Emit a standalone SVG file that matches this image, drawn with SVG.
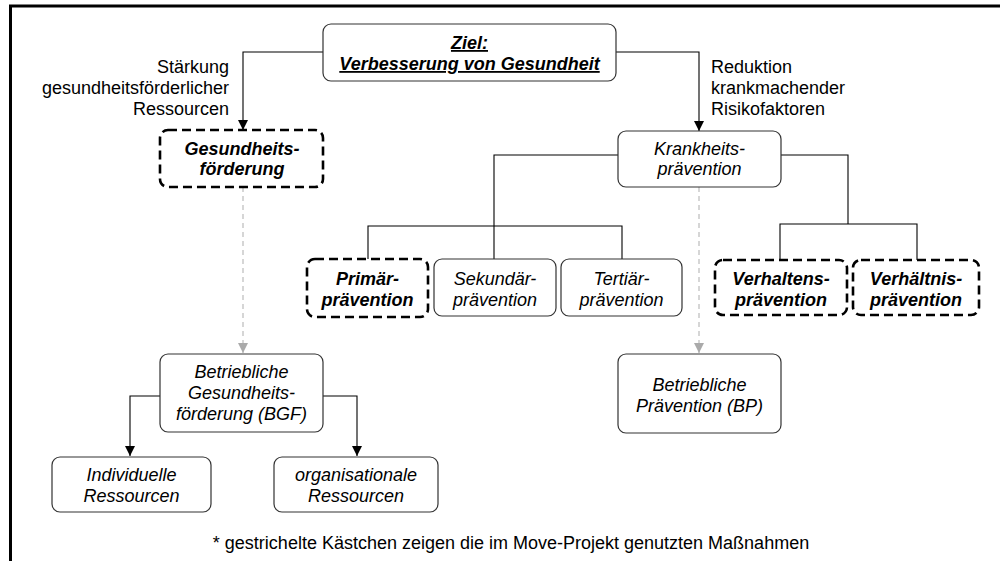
<svg xmlns="http://www.w3.org/2000/svg" width="1000" height="561" viewBox="0 0 1000 561">
<defs>
<marker id="ah" viewBox="0 0 10 10" refX="10" refY="5" markerWidth="10" markerHeight="10" markerUnits="userSpaceOnUse" orient="auto"><path d="M0,0 L10,5 L0,10 z" fill="#000"/></marker>
<marker id="ahg" viewBox="0 0 10 10" refX="10" refY="5" markerWidth="10" markerHeight="10" markerUnits="userSpaceOnUse" orient="auto"><path d="M0,0 L10,5 L0,10 z" fill="#aaa"/></marker>
<style>
text{font-family:"Liberation Sans",Arial,sans-serif;font-size:18px;fill:#000}
.c{text-anchor:middle;font-style:italic}
.b{font-weight:bold}
.u{text-decoration:underline}
.box{fill:#fff;stroke:#333;stroke-width:1.2}
.dbox{fill:#fff;stroke:#000;stroke-width:2.6;stroke-dasharray:9 5}
.ln{fill:none;stroke:#000;stroke-width:1.1}
.gl{fill:none;stroke:#b5b5b5;stroke-width:1.1;stroke-dasharray:5 4}
</style>
</defs>
<rect width="1000" height="561" fill="#fff"/>
<path d="M10.5,561 V6 H1000" fill="none" stroke="#000" stroke-width="3"/>
<g id="connectors">
<path class="ln" d="M323,52 H243 V130" marker-end="url(#ah)"/>
<path class="ln" d="M616,52 H699 V131" marker-end="url(#ah)"/>
<path class="ln" d="M618,155 H494 V259"/>
<path class="ln" d="M368,259 V226 H622 V259"/>
<path class="ln" d="M781,155 H848 V224"/>
<path class="ln" d="M780,260 V224 H917 V260"/>
<path class="gl" d="M243,187 V353" marker-end="url(#ahg)"/>
<path class="gl" d="M699,187 V353" marker-end="url(#ahg)"/>
<path class="ln" d="M160,396 H130 V456" marker-end="url(#ah)"/>
<path class="ln" d="M323,396 H357 V456" marker-end="url(#ah)"/>
</g>
<g id="label-left">
<text x="229" y="73" text-anchor="end">Stärkung</text>
<text x="229" y="94" text-anchor="end">gesundheitsförderlicher</text>
<text x="229" y="115" text-anchor="end">Ressourcen</text>
</g>
<g id="label-right">
<text x="711" y="73">Reduktion</text>
<text x="711" y="94">krankmachender</text>
<text x="711" y="115">Risikofaktoren</text>
</g>
<g id="ziel">
<rect class="box" x="323" y="24" width="293" height="57" rx="8"/>
<text class="c b u" x="469.5" y="49">Ziel:</text>
<text class="c b u" x="469.5" y="70">Verbesserung von Gesundheit</text>
</g>
<g id="gesundheitsfoerderung">
<rect class="dbox" x="160" y="130" width="163" height="57" rx="8"/>
<text class="c b" x="242" y="155">Gesundheits-</text>
<text class="c b" x="242" y="175">förderung</text>
</g>
<g id="krankheitspraevention">
<rect class="box" x="618" y="131" width="163" height="56" rx="8"/>
<text class="c" x="699.5" y="155">Krankheits-</text>
<text class="c" x="699.5" y="175">prävention</text>
</g>
<g id="primaer">
<rect class="dbox" x="307" y="259" width="121" height="58" rx="8"/>
<text class="c b" x="367.5" y="285">Primär-</text>
<text class="c b" x="367.5" y="306">prävention</text>
</g>
<g id="sekundaer">
<rect class="box" x="434" y="259" width="122" height="57" rx="8"/>
<text class="c" x="495" y="285">Sekundär-</text>
<text class="c" x="495" y="306">prävention</text>
</g>
<g id="tertiaer">
<rect class="box" x="561" y="259" width="121" height="57" rx="8"/>
<text class="c" x="621.5" y="285">Tertiär-</text>
<text class="c" x="621.5" y="306">prävention</text>
</g>
<g id="verhaltens">
<rect class="dbox" x="715" y="260" width="132" height="55" rx="8"/>
<text class="c b" x="781" y="285">Verhaltens-</text>
<text class="c b" x="781" y="306">prävention</text>
</g>
<g id="verhaeltnis">
<rect class="dbox" x="853" y="260" width="126" height="55" rx="8"/>
<text class="c b" x="916" y="285">Verhältnis-</text>
<text class="c b" x="916" y="306">prävention</text>
</g>
<g id="bgf">
<rect class="box" x="160" y="354" width="163" height="78" rx="8"/>
<text class="c" x="241.5" y="378">Betriebliche</text>
<text class="c" x="241.5" y="399">Gesundheits-</text>
<text class="c" x="241.5" y="420">förderung (BGF)</text>
</g>
<g id="bp">
<rect class="box" x="618" y="354" width="163" height="79" rx="8"/>
<text class="c" x="699.5" y="391">Betriebliche</text>
<text class="c" x="699.5" y="412">Prävention (BP)</text>
</g>
<g id="individuelle">
<rect class="box" x="52" y="457" width="159" height="55" rx="8"/>
<text class="c" x="131.5" y="481">Individuelle</text>
<text class="c" x="131.5" y="502">Ressourcen</text>
</g>
<g id="organisationale">
<rect class="box" x="274" y="457" width="164" height="55" rx="8"/>
<text class="c" x="356" y="481">organisationale</text>
<text class="c" x="356" y="502">Ressourcen</text>
</g>
<text x="511" y="549" text-anchor="middle">* gestrichelte Kästchen zeigen die im Move-Projekt genutzten Maßnahmen</text>
</svg>
